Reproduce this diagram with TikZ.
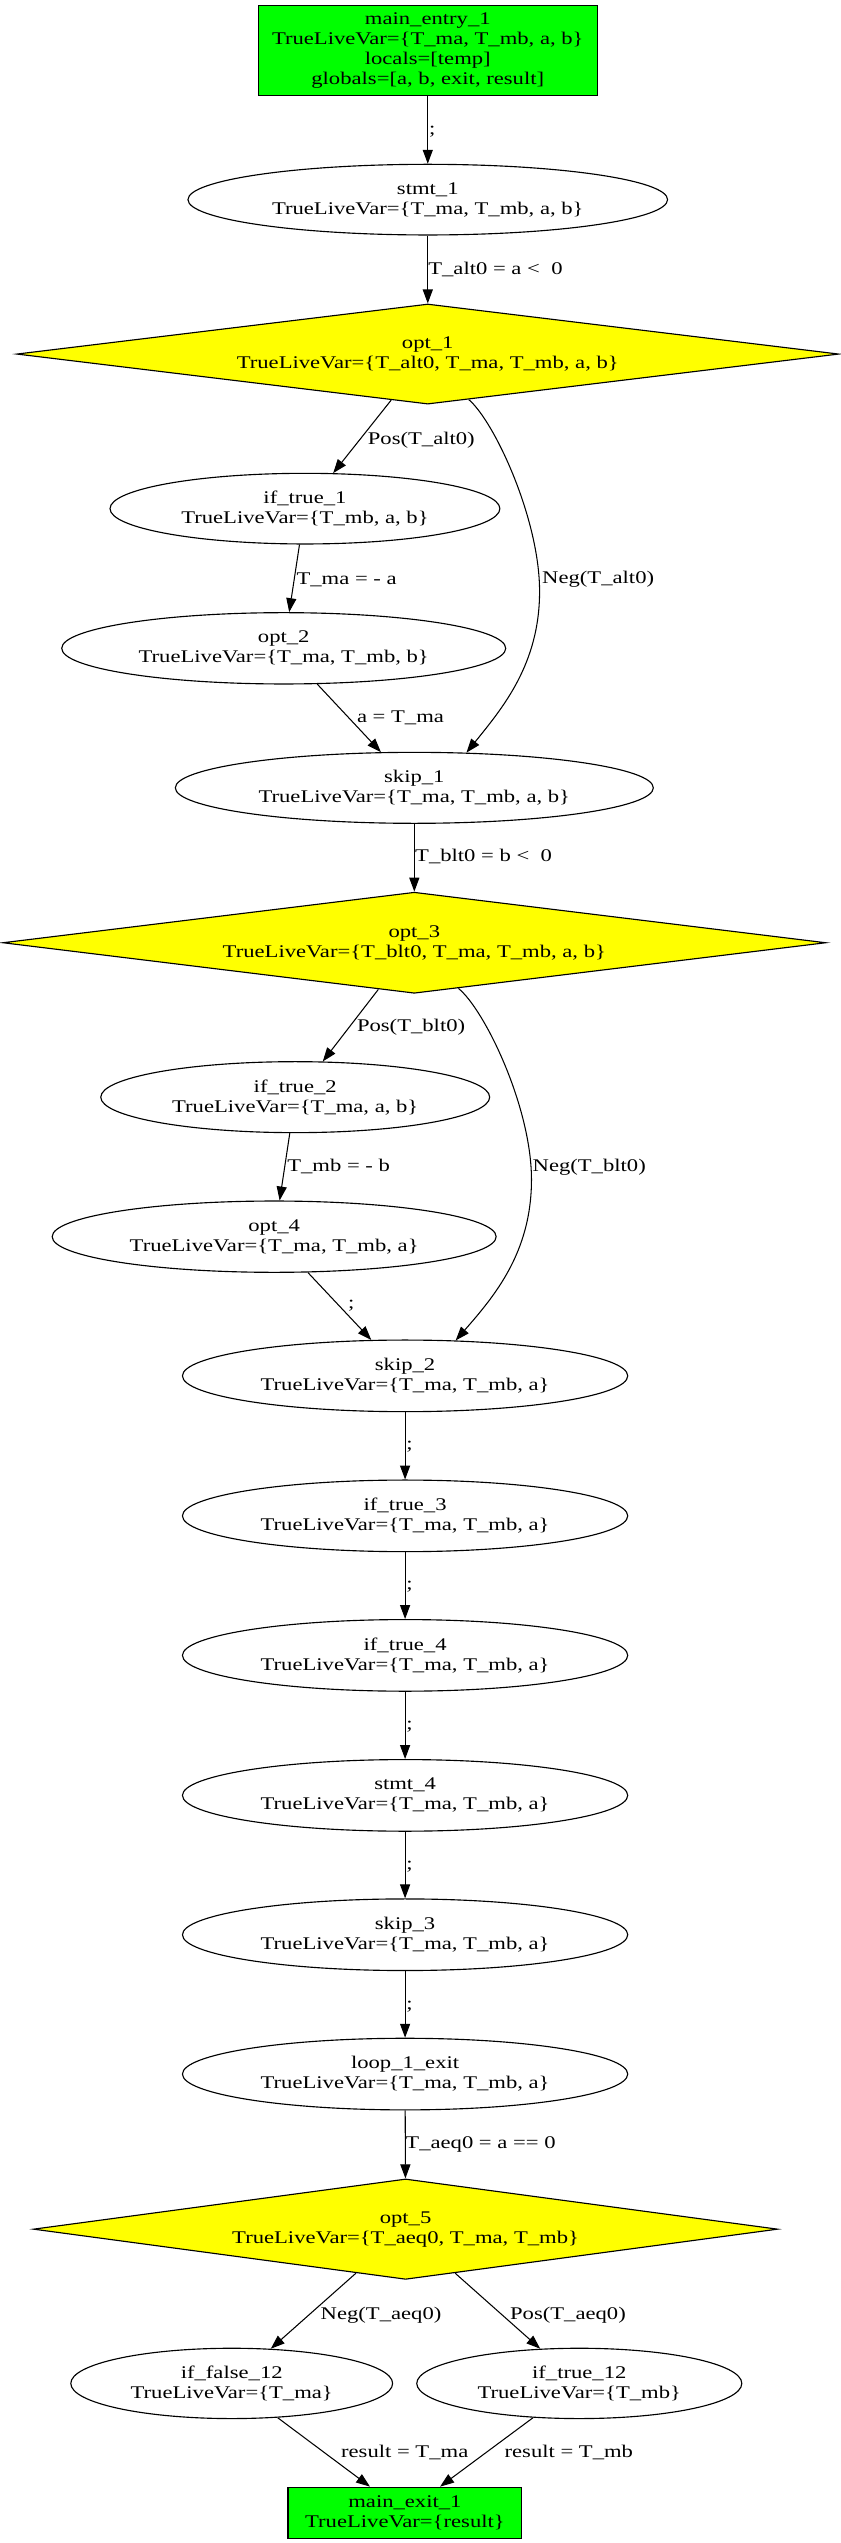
\documentclass[tikz,border=0pt]{standalone}
\usepackage{fontspec}
\setmainfont{Liberation Serif}[FakeStretch=1.27]
\usetikzlibrary{shapes.geometric,arrows.meta}
\definecolor{gvgreen}{RGB}{0,255,0}
\definecolor{gvyellow}{RGB}{255,255,0}
\begin{document}
\begin{tikzpicture}[x=1pt, y=-1pt,
  font=\fontsize{11}{12.35}\selectfont,
  bx/.style={draw, rectangle, fill=gvgreen, inner sep=0pt, align=center, line width=0.7pt},
  ell/.style={draw, ellipse, inner sep=0pt, align=center, line width=0.7pt},
  dia/.style={draw, diamond, aspect=8, fill=gvyellow, inner sep=0pt, align=center, line width=0.7pt},
  conn/.style={draw, line width=0.65pt, -{Triangle[length=8.6pt,width=6.2pt]}},
  lab/.style={anchor=base west, inner sep=0pt}]
\useasboundingbox (0,0) rectangle (519,1569.4);

% nodes
\node[bx, minimum width=209pt, minimum height=56pt] (entry) at (264,31.2)
  {main\_entry\_1\\TrueLiveVar=\{T\_ma, T\_mb, a, b\}\\locals=[temp]\\globals=[a, b, exit, result]};
\node[ell, minimum width=296pt, minimum height=43.6pt] (stmt1) at (264,123.2)
  {stmt\_1\\TrueLiveVar=\{T\_ma, T\_mb, a, b\}};
\node[dia, minimum width=507.4pt, minimum height=61.8pt] (opt1) at (264,218.5)
  {opt\_1\\TrueLiveVar=\{T\_alt0, T\_ma, T\_mb, a, b\}};
\node[ell, minimum width=240.6pt, minimum height=43.6pt] (it1) at (188.2,313.9)
  {if\_true\_1\\TrueLiveVar=\{T\_mb, a, b\}};
\node[ell, minimum width=274pt, minimum height=44pt] (opt2) at (175.1,400.1)
  {opt\_2\\TrueLiveVar=\{T\_ma, T\_mb, b\}};
\node[ell, minimum width=295pt, minimum height=43.8pt] (skip1) at (255.7,486.2)
  {skip\_1\\TrueLiveVar=\{T\_ma, T\_mb, a, b\}};
\node[dia, minimum width=508pt, minimum height=62.4pt] (opt3) at (255.7,581.8)
  {opt\_3\\TrueLiveVar=\{T\_blt0, T\_ma, T\_mb, a, b\}};
\node[ell, minimum width=240pt, minimum height=43.8pt] (it2) at (182.2,677.1)
  {if\_true\_2\\TrueLiveVar=\{T\_ma, a, b\}};
\node[ell, minimum width=274pt, minimum height=44pt] (opt4) at (169.2,763.2)
  {opt\_4\\TrueLiveVar=\{T\_ma, T\_mb, a\}};
\node[ell, minimum width=274.8pt, minimum height=44.2pt] (skip2) at (250,849.1)
  {skip\_2\\TrueLiveVar=\{T\_ma, T\_mb, a\}};
\node[ell, minimum width=274.8pt, minimum height=44.2pt] (it3) at (250,935.5)
  {if\_true\_3\\TrueLiveVar=\{T\_ma, T\_mb, a\}};
\node[ell, minimum width=274.8pt, minimum height=44.2pt] (it4) at (250,1021.6)
  {if\_true\_4\\TrueLiveVar=\{T\_ma, T\_mb, a\}};
\node[ell, minimum width=274.8pt, minimum height=44.2pt] (stmt4) at (250,1108)
  {stmt\_4\\TrueLiveVar=\{T\_ma, T\_mb, a\}};
\node[ell, minimum width=274.8pt, minimum height=44.2pt] (skip3) at (250,1194)
  {skip\_3\\TrueLiveVar=\{T\_ma, T\_mb, a\}};
\node[ell, minimum width=274.8pt, minimum height=44.2pt] (loop) at (250,1280)
  {loop\_1\_exit\\TrueLiveVar=\{T\_ma, T\_mb, a\}};
\node[dia, minimum width=459.4pt, minimum height=62pt] (opt5) at (250.3,1375.7)
  {opt\_5\\TrueLiveVar=\{T\_aeq0, T\_ma, T\_mb\}};
\node[ell, minimum width=198.6pt, minimum height=43.4pt] (if12f) at (143,1470.9)
  {if\_false\_12\\TrueLiveVar=\{T\_ma\}};
\node[ell, minimum width=200.6pt, minimum height=43.4pt] (if12t) at (357.5,1470.9)
  {if\_true\_12\\TrueLiveVar=\{T\_mb\}};
\node[bx, minimum width=144.4pt, minimum height=31.5pt] (exit) at (249.9,1550.7)
  {main\_exit\_1\\TrueLiveVar=\{result\}};

% connectors
\draw[conn] (entry) -- (stmt1) node[lab] (l1) at (264.5,82.8) {;};
\draw[conn] (stmt1) -- (opt1) node[lab] (l2) at (264,169.2) {T\_alt0 = a < \ 0};
\draw[conn] (opt1) -- (it1) node[lab] (l3) at (226.7,274.1) {Pos(T\_alt0)};
\draw[conn] (opt1.-48.4) .. controls (305,260) and (333,320) .. (333,365)
  .. controls (333,410) and (310,437) .. (skip1.34.5)
  node[lab] (l4) at (334.3,359.9) {Neg(T\_alt0)};
\draw[conn] (it1) -- (opt2) node[lab] (l5) at (182.7,360.5) {T\_ma = - a};
\draw[conn] (opt2) -- (skip1) node[lab] (l6) at (220,445.9) {a = T\_ma};
\draw[conn] (skip1) -- (opt3) node[lab] (l7) at (255.9,531.9) {T\_blt0 = b < \ 0};
\draw[conn] (opt3) -- (it2) node[lab] (l8) at (220,636.6) {Pos(T\_blt0)};
\draw[conn] (opt3.-46.7) .. controls (299,623) and (328,683) .. (328,728)
  .. controls (328,773) and (305,800) .. (skip2.35.1)
  node[lab] (l9) at (328.4,723.2) {Neg(T\_blt0)};
\draw[conn] (it2) -- (opt4) node[lab] (l10) at (177,723.2) {T\_mb = - b};
\draw[conn] (opt4) -- (skip2) node[lab] (l11) at (214.5,807.5) {;};
\draw[conn] (skip2) -- (it3) node[lab] (l12) at (250.5,894.3) {;};
\draw[conn] (it3) -- (it4) node[lab] (l13) at (250.5,980.7) {;};
\draw[conn] (it4) -- (stmt4) node[lab] (l14) at (250.5,1067.1) {;};
\draw[conn] (stmt4) -- (skip3) node[lab] (l15) at (250.5,1153.5) {;};
\draw[conn] (skip3) -- (loop) node[lab] (l16) at (250.5,1239.9) {;};
\draw[conn] (loop) -- (opt5) node[lab] (l17) at (249.9,1325.9) {T\_aeq0 = a == 0};
\draw[conn] (opt5) -- (if12f) node[lab] (l18) at (197.6,1431.2) {Neg(T\_aeq0)};
\draw[conn] (opt5) -- (if12t) node[lab] (l19) at (314.5,1431.2) {Pos(T\_aeq0)};
\draw[conn] (if12f) -- (exit) node[lab] (l20) at (210.2,1516.6) {result = T\_ma};
\draw[conn] (if12t) -- (exit) node[lab] (l21) at (311.1,1516.6) {result = T\_mb};
\end{tikzpicture}
\end{document}
